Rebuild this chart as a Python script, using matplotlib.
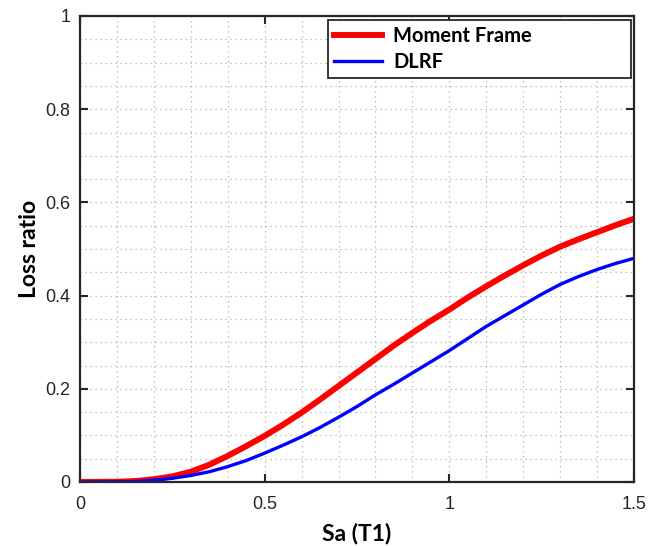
import matplotlib.pyplot as plt
from matplotlib.ticker import MultipleLocator

sa = [0.01, 0.1, 0.15, 0.2, 0.25, 0.3, 0.35, 0.4, 0.45, 0.5, 0.55, 0.6, 0.65,
      0.7, 0.75, 0.8, 0.85, 0.9, 0.95, 1.0, 1.05, 1.1, 1.15, 1.2, 1.25, 1.3,
      1.35, 1.4, 1.45, 1.5]
moment_frame = [0.0, 0.0005, 0.002, 0.006, 0.012, 0.022, 0.037, 0.056, 0.077,
                0.099, 0.123, 0.149, 0.177, 0.206, 0.235, 0.264, 0.293, 0.32,
                0.346, 0.37, 0.396, 0.42, 0.443, 0.465, 0.486, 0.505, 0.521,
                0.536, 0.551, 0.565]
dlrf = [0.0, 0.0003, 0.001, 0.004, 0.008, 0.014, 0.022, 0.033, 0.046, 0.062,
        0.079, 0.097, 0.117, 0.139, 0.162, 0.187, 0.21, 0.234, 0.258, 0.282,
        0.308, 0.334, 0.357, 0.38, 0.403, 0.424, 0.441, 0.456, 0.469, 0.48]

xticks = [0, 0.5, 1, 1.5]
xticklabels = ["0", "0.5", "1", "1.5"]
yticks = [0, 0.2, 0.4, 0.6, 0.8, 1]
yticklabels = ["0", "0.2", "0.4", "0.6", "0.8", "1"]

fig = plt.figure(figsize=(6.62, 5.46), dpi=100)
ax = fig.add_axes([80 / 662, 1 - 482 / 546, 554 / 662, 466 / 546])

ax.plot(sa, moment_frame, color="#ff0000", lw=4.3, label="Moment Frame")
ax.plot(sa, dlrf, color="#0000ff", lw=2.4, label="DLRF")

ax.set_xlim(0, 1.5)
ax.set_ylim(0, 1)
ax.set_xticks(xticks)
ax.set_xticklabels(xticklabels, fontname="Liberation Sans", fontsize=13, color="#262626")
ax.set_yticks(yticks)
ax.set_yticklabels(yticklabels, fontname="Liberation Sans", fontsize=13, color="#262626")
ax.xaxis.set_minor_locator(MultipleLocator(0.1))
ax.yaxis.set_minor_locator(MultipleLocator(0.05))
ax.tick_params(which="major", direction="in", length=6, width=1.5, color="#262626",
               top=True, right=True)
ax.tick_params(axis="x", which="major", pad=10)
ax.tick_params(axis="y", which="major", pad=7)
ax.tick_params(which="minor", length=0, top=True, right=True)
ax.grid(which="both", linestyle=(0, (1, 3)), color="#b0b0b0", lw=0.9)
ax.set_axisbelow(True)
for s in ax.spines.values():
    s.set_linewidth(1.6)
    s.set_color("#262626")

ax.set_xlabel("Sa (T1)", fontname="Lato", fontweight="bold", fontsize=16.5, labelpad=7)
ax.set_ylabel("Loss ratio", fontname="Lato", fontweight="bold", fontsize=16.5, labelpad=4)

leg = ax.legend(loc="upper left", bbox_to_anchor=(0.4477, 0.878, 0.547, 0.113),
                mode="expand", fancybox=False, framealpha=1, edgecolor="#262626",
                prop={"family": "Lato", "weight": "bold", "size": 14.5},
                handlelength=2.4, handletextpad=0.55, borderaxespad=0,
                borderpad=0.3, labelspacing=0.3)
leg.get_frame().set_linewidth(1.3)

fig.savefig("out.png", dpi=100)
